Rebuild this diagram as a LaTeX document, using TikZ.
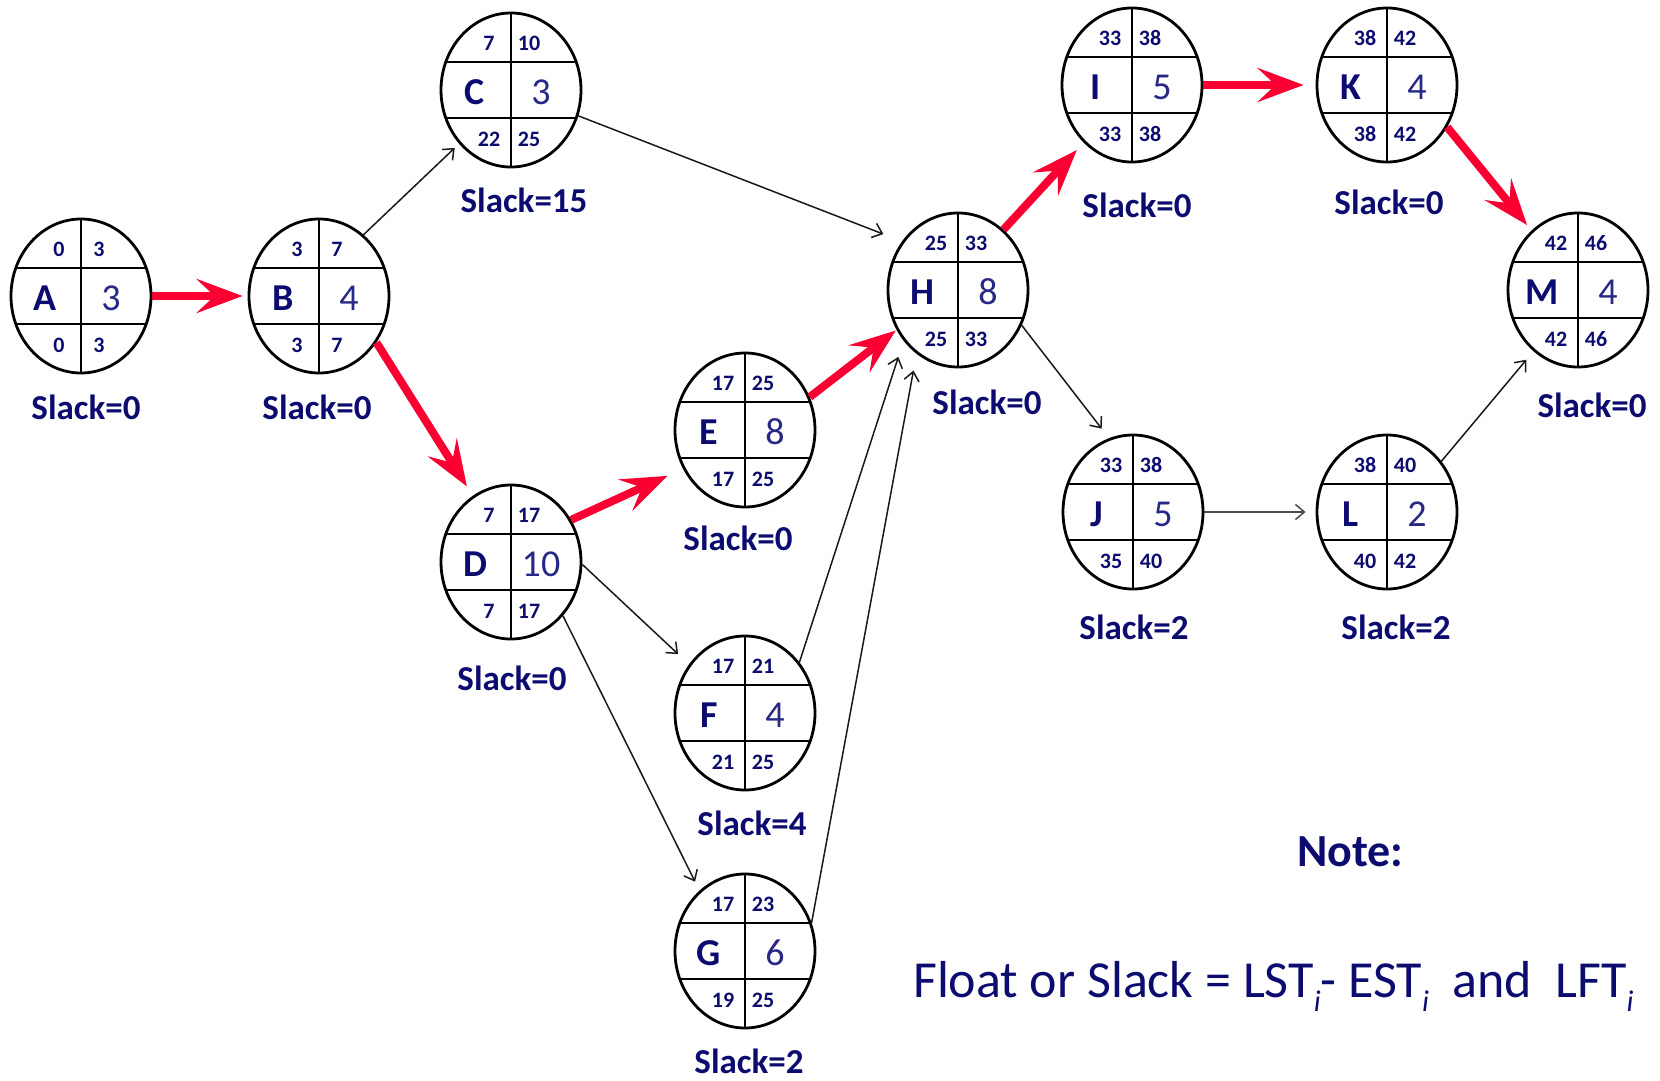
\documentclass[tikz,border=0pt]{standalone}
\usepackage{fontspec}
\setmainfont{Carlito}
\usetikzlibrary{shapes.geometric,arrows.meta}
\definecolor{navy}{RGB}{12,12,112}
\definecolor{navyl}{RGB}{40,40,135}
\definecolor{critred}{RGB}{250,0,50}
\newcommand\pertnode[9]{%
  \node[pert] (#1) at (#2,#3) {};
  \draw[divline] (#1.north) -- (#1.south);
  \draw[divline] ([shift={(-66,-28)}]#1.center) -- ([shift={(66,-28)}]#1.center);
  \draw[divline] ([shift={(-66,28)}]#1.center) -- ([shift={(66,28)}]#1.center);
  \node[ltr] (#1-l) at ([shift={(-36,2)}]#1.center) {#4};
  \node[dur] (#1-d) at ([shift={(30,2)}]#1.center) {#5};
  \node[sml] (#1-es) at ([shift={(-22,-47)}]#1.center) {#6};
  \node[sml] (#1-ef) at ([shift={(18,-47)}]#1.center) {#7};
  \node[sml] (#1-ls) at ([shift={(-22,49)}]#1.center) {#8};
  \node[sml] (#1-lf) at ([shift={(18,49)}]#1.center) {#9};
}
\newcommand\subi{\raisebox{-0.28em}{\fontsize{30}{30}\selectfont\itshape i}}
\begin{document}
\begin{tikzpicture}[x=1pt,y=-1pt,
  pert/.style={ellipse, draw=black, line width=2.8pt, fill=white,
    minimum width=140pt, minimum height=154pt, inner sep=0pt},
  divline/.style={draw=black, line width=1.3pt},
  ltr/.style={inner sep=0pt, text=navy, font=\fontsize{38}{38}\selectfont\bfseries},
  dur/.style={inner sep=0pt, text=navyl, font=\fontsize{38}{38}\selectfont},
  sml/.style={inner sep=0pt, text=navy, font=\fontsize{22}{22}\selectfont\bfseries},
  slk/.style={inner sep=0pt, text=navy, font=\fontsize{35}{35}\selectfont\bfseries},
  crit/.style={draw=critred, line width=8pt,
    -{Stealth[length=46pt, width=34pt, inset=18pt]}},
  act/.style={draw=black!90, line width=1.5pt,
    -{Straight Barb[length=9pt, width=15pt, line width=1.5pt]}}
]
\path[use as bounding box] (0,0) rectangle (1660,1081);
\fill[white] (0,0) rectangle (1660,1081);

\pertnode{A}{81}{296}{A}{3}{0}{3}{0}{3}
\pertnode{B}{319}{296}{B}{4}{3}{7}{3}{7}
\pertnode{C}{511}{90}{C}{3}{7}{10}{22}{25}
\pertnode{D}{511}{562}{D}{10}{7}{17}{7}{17}
\pertnode{E}{745}{430}{E}{8}{17}{25}{17}{25}
\pertnode{F}{745}{713}{F}{4}{17}{21}{21}{25}
\pertnode{G}{745}{951}{G}{6}{17}{23}{19}{25}
\pertnode{H}{958}{290}{H}{8}{25}{33}{25}{33}
\pertnode{I}{1132}{85}{I}{5}{33}{38}{33}{38}
\pertnode{K}{1387}{85}{K}{4}{38}{42}{38}{42}
\pertnode{J}{1133}{512}{J}{5}{33}{38}{35}{40}
\pertnode{L}{1387}{512}{L}{2}{38}{40}{40}{42}
\pertnode{M}{1578}{290}{M}{4}{42}{46}{42}{46}

\node[slk] (A-s) at (86,407) {Slack=0};
\node[slk] (B-s) at (317,407) {Slack=0};
\node[slk] (C-s) at (524,200) {Slack=15};
\node[slk] (D-s) at (512,678) {Slack=0};
\node[slk] (E-s) at (738,538) {Slack=0};
\node[slk] (F-s) at (752,823) {Slack=4};
\node[slk] (G-s) at (749,1061) {Slack=2};
\node[slk] (H-s) at (987,402) {Slack=0};
\node[slk] (I-s) at (1137,205) {Slack=0};
\node[slk] (K-s) at (1389,202) {Slack=0};
\node[slk] (J-s) at (1134,627) {Slack=2};
\node[slk] (L-s) at (1396,627) {Slack=2};
\node[slk] (M-s) at (1592,405) {Slack=0};

% critical path
\draw[crit, shorten >=5pt] (A.east) -- (B.west);
\draw[crit, shorten >=11pt] (B.-39) -- (D.120);
\draw[crit, shorten >=17pt] (D.35) -- (E.212);
\draw[crit, shorten >=1pt] (E.27) -- (H.213);
\draw[crit, shorten >=10pt] (H.53) -- (I.230);
\draw[crit, shorten >=12pt] (I.east) -- (K.west);
\draw[crit, shorten >=7pt] (K.-35) -- (M.128);

% other activities
\draw[act, shorten >=6pt] (B.54) -- (C.226);
\draw[act, shorten >=20pt] (C.-21) -- (H.139);
\draw[act, shorten >=15pt] (D.-2) -- (F.139);
\draw[act, shorten >=10pt] (D.-46) -- (G.127);
\draw[act, shorten >=17pt] (F.43) -- (H.223);
\draw[act, shorten >=17pt] (G.23) -- (H.237);
\draw[act, shorten >=12pt] (H.-29) -- (J.108);
\draw[act, draw=black!70, shorten >=10pt] (J.east) -- (L.west);
\draw[act, shorten >=11pt] (L.43) -- (M.234);

\node[anchor=base west, inner sep=0pt, text=navy, font=\fontsize{46}{46}\selectfont\bfseries] (note) at (1297,866) {Note:};
\begin{scope}
\clip (0,0) rectangle (1660,1081);
\node[anchor=base west, inner sep=0pt, text=navy, font=\fontsize{52}{52}\selectfont] (formula) at (913,997)
  {Float or Slack = LST\subi- EST\subi\ \ and\ \ LFT\subi};
\end{scope}
\end{tikzpicture}
\end{document}
